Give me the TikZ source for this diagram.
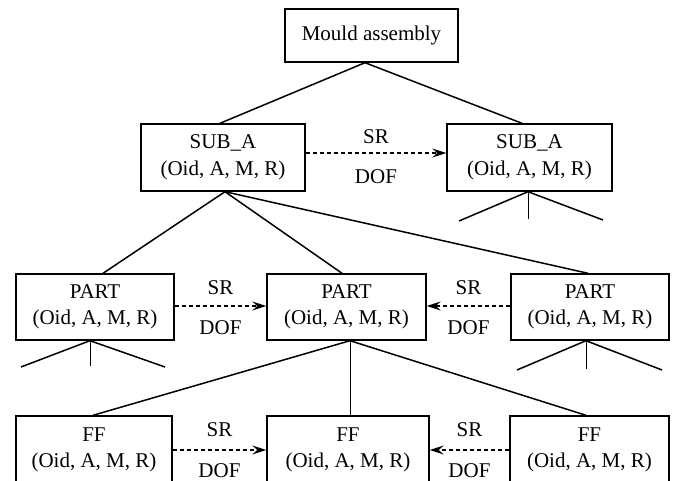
\documentclass[tikz,border=0pt]{standalone}
\usepackage{fontspec}
\setmainfont{Liberation Serif}
\usetikzlibrary{arrows.meta}
\tikzset{
  box/.style={draw, line width=1.4pt, align=center, inner sep=0pt,
    font=\fontsize{21}{26.5}\selectfont},
  tree/.style={line width=1.5pt},
  rel/.style={line width=1.2pt, dash pattern=on 4pt off 3pt,
    -{Stealth[length=14pt,width=9pt,inset=5pt]}},
  lbl/.style={font=\fontsize{21}{25}\selectfont, inner sep=0pt}
}
\begin{document}
\begin{tikzpicture}[x=1pt,y=-1pt]
\useasboundingbox (0,0) rectangle (673,481);
\clip (0,0) rectangle (673,481);
% boxes
\node[box, minimum width=173pt, minimum height=53pt] (m) at (371.5,35.5) {Mould assembly};
\node[box, minimum width=164pt, minimum height=67pt] (sa) at (223,157.5) {SUB\_A\\(Oid, A, M, R)};
\node[box, minimum width=165pt, minimum height=67pt] (sb) at (529.5,157.5) {SUB\_A\\(Oid, A, M, R)};
\node[box, minimum width=158pt, minimum height=66pt] (pl) at (95,307) {PART\\(Oid, A, M, R)};
\node[box, minimum width=159pt, minimum height=66pt] (pc) at (346.5,307) {PART\\(Oid, A, M, R)};
\node[box, minimum width=158pt, minimum height=66pt] (pr) at (590,307) {PART\\(Oid, A, M, R)};
\node[box, minimum width=156pt, minimum height=68pt] (fl) at (94,450) {FF\\(Oid, A, M, R)};
\node[box, minimum width=162pt, minimum height=68pt] (fc) at (348,450) {FF\\(Oid, A, M, R)};
\node[box, minimum width=159pt, minimum height=68pt] (fr) at (589.5,450) {FF\\(Oid, A, M, R)};
% free ends of the stub branches
\coordinate (sbl) at (459,221);
\coordinate (sbm) at (528,219);
\coordinate (sbr) at (603,220);
\coordinate (pll) at (21,367);
\coordinate (plm) at (90,366);
\coordinate (plr) at (165,367);
\coordinate (prl) at (517,370);
\coordinate (prm) at (586,369);
\coordinate (prr) at (662,370);
% tree
\draw[tree] ([xshift=-6.5pt]m.south) -- ([xshift=-3pt]sa.north);
\draw[tree] ([xshift=-6.5pt]m.south) -- ([xshift=-7.5pt]sb.north);
\draw[tree] ([xshift=2pt]sa.south) -- ([xshift=8pt]pl.north);
\draw[tree] ([xshift=2pt]sa.south) -- ([xshift=-4.5pt]pc.north);
\draw[tree] ([xshift=2pt]sa.south) -- ([xshift=-2pt]pr.north);
\draw[tree] ([xshift=-1.5pt]sb.south) -- (sbl);
\draw[tree] ([xshift=-1.5pt]sb.south) -- (sbr);
\draw[line width=1pt] ([xshift=-1.5pt]sb.south) -- (sbm);
\draw[tree] ([xshift=-5pt]pl.south) -- (pll);
\draw[tree] ([xshift=-5pt]pl.south) -- (plr);
\draw[line width=1pt] ([xshift=-5pt]pl.south) -- (plm);
\draw[tree] ([xshift=3.5pt]pc.south) -- ([xshift=-1pt]fl.north);
\draw[line width=1pt] ([xshift=3.5pt]pc.south) -- ([xshift=2pt]fc.north);
\draw[tree] ([xshift=3.5pt]pc.south) -- ([xshift=-3.5pt]fr.north);
\draw[tree] ([xshift=-4pt]pr.south) -- (prl);
\draw[tree] ([xshift=-4pt]pr.south) -- (prr);
\draw[line width=1pt] ([xshift=-4pt]pr.south) -- (prm);
% relations
\draw[rel] ([yshift=4.5pt]sa.east) -- node[lbl, midway, yshift=16pt] {SR} node[lbl, midway, yshift=-24pt] {DOF} ([yshift=4.5pt]sb.west);
\draw[rel] ([yshift=1pt]pl.east) -- node[lbl, midway, yshift=18pt] {SR} node[lbl, midway, yshift=-22pt] {DOF} ([yshift=1pt]pc.west);
\draw[rel] ([yshift=1pt]pr.west) -- node[lbl, midway, yshift=18pt] {SR} node[lbl, midway, yshift=-22pt] {DOF} ([yshift=1pt]pc.east);
\draw[rel] (fl.east) -- node[lbl, midway, yshift=20pt] {SR} node[lbl, midway, yshift=-21pt] {DOF} (fc.west);
\draw[rel] (fr.west) -- node[lbl, midway, yshift=20pt] {SR} node[lbl, midway, yshift=-21pt] {DOF} (fc.east);
\end{tikzpicture}
\end{document}
